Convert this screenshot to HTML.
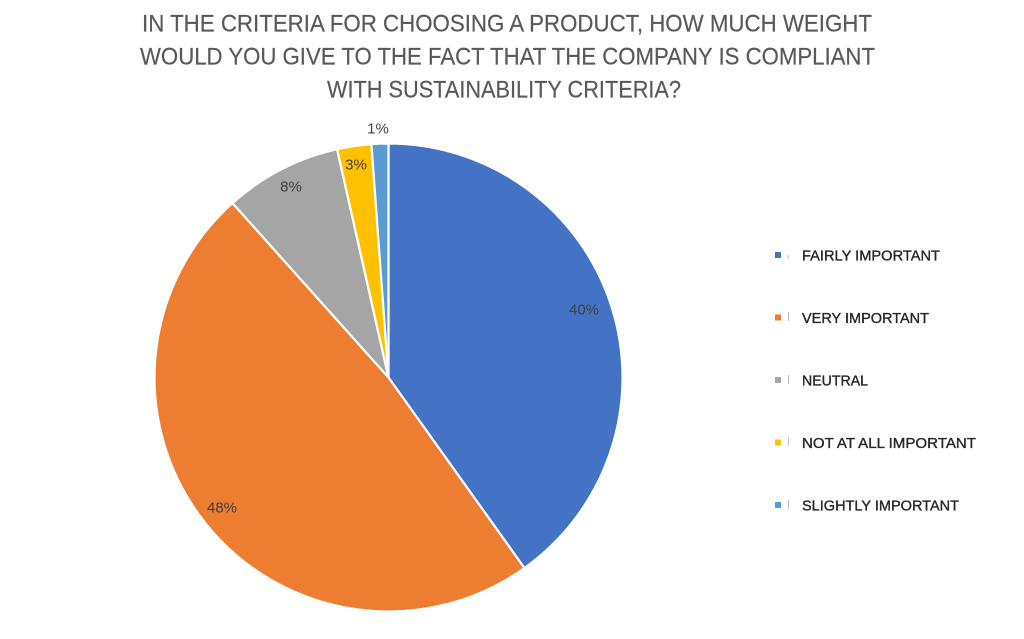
<!DOCTYPE html>
<html>
<head>
<meta charset="utf-8">
<style>
  html, body { margin:0; padding:0; background:#ffffff; }
  body { width:1024px; height:639px; overflow:hidden; }
  svg { display:block; }
  text { font-family: "Liberation Sans", "DejaVu Sans", sans-serif; }
</style>
</head>
<body>
<svg width="1024" height="639" viewBox="0 0 1024 639" xmlns="http://www.w3.org/2000/svg">
  <rect x="0" y="0" width="1024" height="639" fill="#ffffff"/>

  <!-- Title -->
  <g fill="#595959" font-size="24.5" stroke="#595959" stroke-width="0.2">
    <text x="142" y="31.5" textLength="730" lengthAdjust="spacingAndGlyphs">IN THE CRITERIA FOR CHOOSING A PRODUCT, HOW MUCH WEIGHT</text>
    <text x="140" y="64.5" textLength="735" lengthAdjust="spacingAndGlyphs">WOULD YOU GIVE TO THE FACT THAT THE COMPANY IS COMPLIANT</text>
    <text x="327" y="97.5" textLength="354" lengthAdjust="spacingAndGlyphs">WITH SUSTAINABILITY CRITERIA?</text>
  </g>

  <!-- Pie -->
  <g stroke="#ffffff" stroke-width="2.2" stroke-linejoin="round">
    <path d="M388.5 377.5 L388.5 143.5 A234 234 0 0 1 524.4 568.0 Z" fill="#4472C4"/>
    <path d="M388.5 377.5 L524.4 568.0 A234 234 0 0 1 232.5 203.1 Z" fill="#ED7D31"/>
    <path d="M388.5 377.5 L232.5 203.1 A234 234 0 0 1 337.1 149.2 Z" fill="#A5A5A5"/>
    <path d="M388.5 377.5 L337.1 149.2 A234 234 0 0 1 371.4 144.1 Z" fill="#FFC000"/>
    <path d="M388.5 377.5 L371.4 144.1 A234 234 0 0 1 388.5 143.5 Z" fill="#5B9BD5"/>
  </g>

  <!-- Data labels -->
  <g fill="#404040" font-size="15" text-anchor="middle">
    <text x="584" y="314.5">40%</text>
    <text x="222" y="512.5">48%</text>
    <text x="291" y="191.5">8%</text>
    <text x="356" y="169.5">3%</text>
    <text x="378" y="133.5">1%</text>
  </g>

  <!-- Legend -->
  <g>
    <rect x="775" y="252" width="6" height="6" fill="#4472C4"/>
    <rect x="775" y="314.5" width="6" height="6" fill="#ED7D31"/>
    <rect x="775" y="377" width="6" height="6" fill="#A5A5A5"/>
    <rect x="775" y="439.5" width="6" height="6" fill="#FFC000"/>
    <rect x="775" y="502" width="6" height="6" fill="#5B9BD5"/>
    <g stroke="#bdbdbd" stroke-width="1">
      <line x1="788.5" y1="255" x2="788" y2="259"/>
      <line x1="788.5" y1="312.5" x2="788.5" y2="321"/>
      <line x1="788.5" y1="375" x2="788.5" y2="383.5"/>
      <line x1="788.5" y1="437.5" x2="788.5" y2="446"/>
      <line x1="788.5" y1="500" x2="788.5" y2="508.5"/>
    </g>
    <g fill="#262626" font-size="14.5" stroke="#262626" stroke-width="0.35">
      <text x="802" y="260.5" textLength="138" lengthAdjust="spacingAndGlyphs">FAIRLY IMPORTANT</text>
      <text x="802" y="323" textLength="127" lengthAdjust="spacingAndGlyphs">VERY IMPORTANT</text>
      <text x="802" y="385.5" textLength="66" lengthAdjust="spacingAndGlyphs">NEUTRAL</text>
      <text x="802" y="448" textLength="174" lengthAdjust="spacingAndGlyphs">NOT AT ALL IMPORTANT</text>
      <text x="802" y="510.5" textLength="157" lengthAdjust="spacingAndGlyphs">SLIGHTLY IMPORTANT</text>
    </g>
  </g>
</svg>
</body>
</html>
